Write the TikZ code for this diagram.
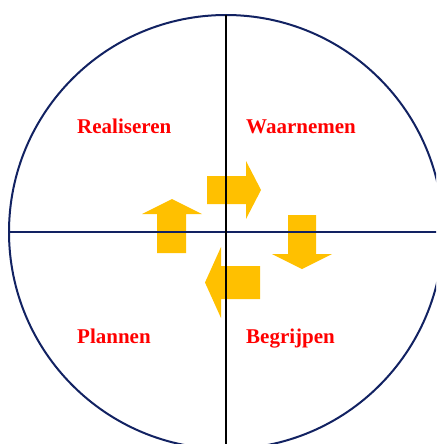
\documentclass[tikz,border=0pt]{standalone}
\usepackage{fontspec}
\setmainfont{Liberation Serif}
\definecolor{kringblauw}{RGB}{18,34,98}
\definecolor{pijlgeel}{RGB}{255,192,0}

\begin{document}
\begin{tikzpicture}[x=1pt, y=-1pt,
    fase/.style={text=red, font=\bfseries\fontsize{21}{25}\selectfont, anchor=base west, inner sep=0pt},
    pijl/.style={fill=pijlgeel}]
    \useasboundingbox (0,0) rectangle (436,444);
    \clip (0,0) rectangle (436,444);
    \coordinate (m) at (226,232);

    % pijlen
    \fill[pijl] (207,176) -- (246,176) -- (246,161) -- (261,190) -- (246,219) -- (246,204) -- (207,204) -- cycle;
    \fill[pijl] (288,215) -- (316,215) -- (316,254) -- (332,254) -- (302,269) -- (272,254) -- (288,254) -- cycle;
    \fill[pijl] (260,266) -- (221,266) -- (221,247) -- (205,282.5) -- (221,318) -- (221,299) -- (260,299) -- cycle;
    \fill[pijl] (157,253) -- (157,214) -- (142,214) -- (172,199) -- (202,214) -- (186,214) -- (186,253) -- cycle;

    % kring en assen
    \draw[kringblauw, line width=2pt] (m) circle (217pt);
    \draw[kringblauw, line width=2pt] (9,232) -- (443,232);
    \draw[black, line width=2pt] (226,15) -- (226,449);

    % fasen
    \node[fase] (realiseren) at (77,133) {Realiseren};
    \node[fase] (waarnemen) at (246,133) {Waarnemen};
    \node[fase] (plannen) at (77,343) {Plannen};
    \node[fase] (begrijpen) at (246,343) {Begrijpen};
\end{tikzpicture}
\end{document}
